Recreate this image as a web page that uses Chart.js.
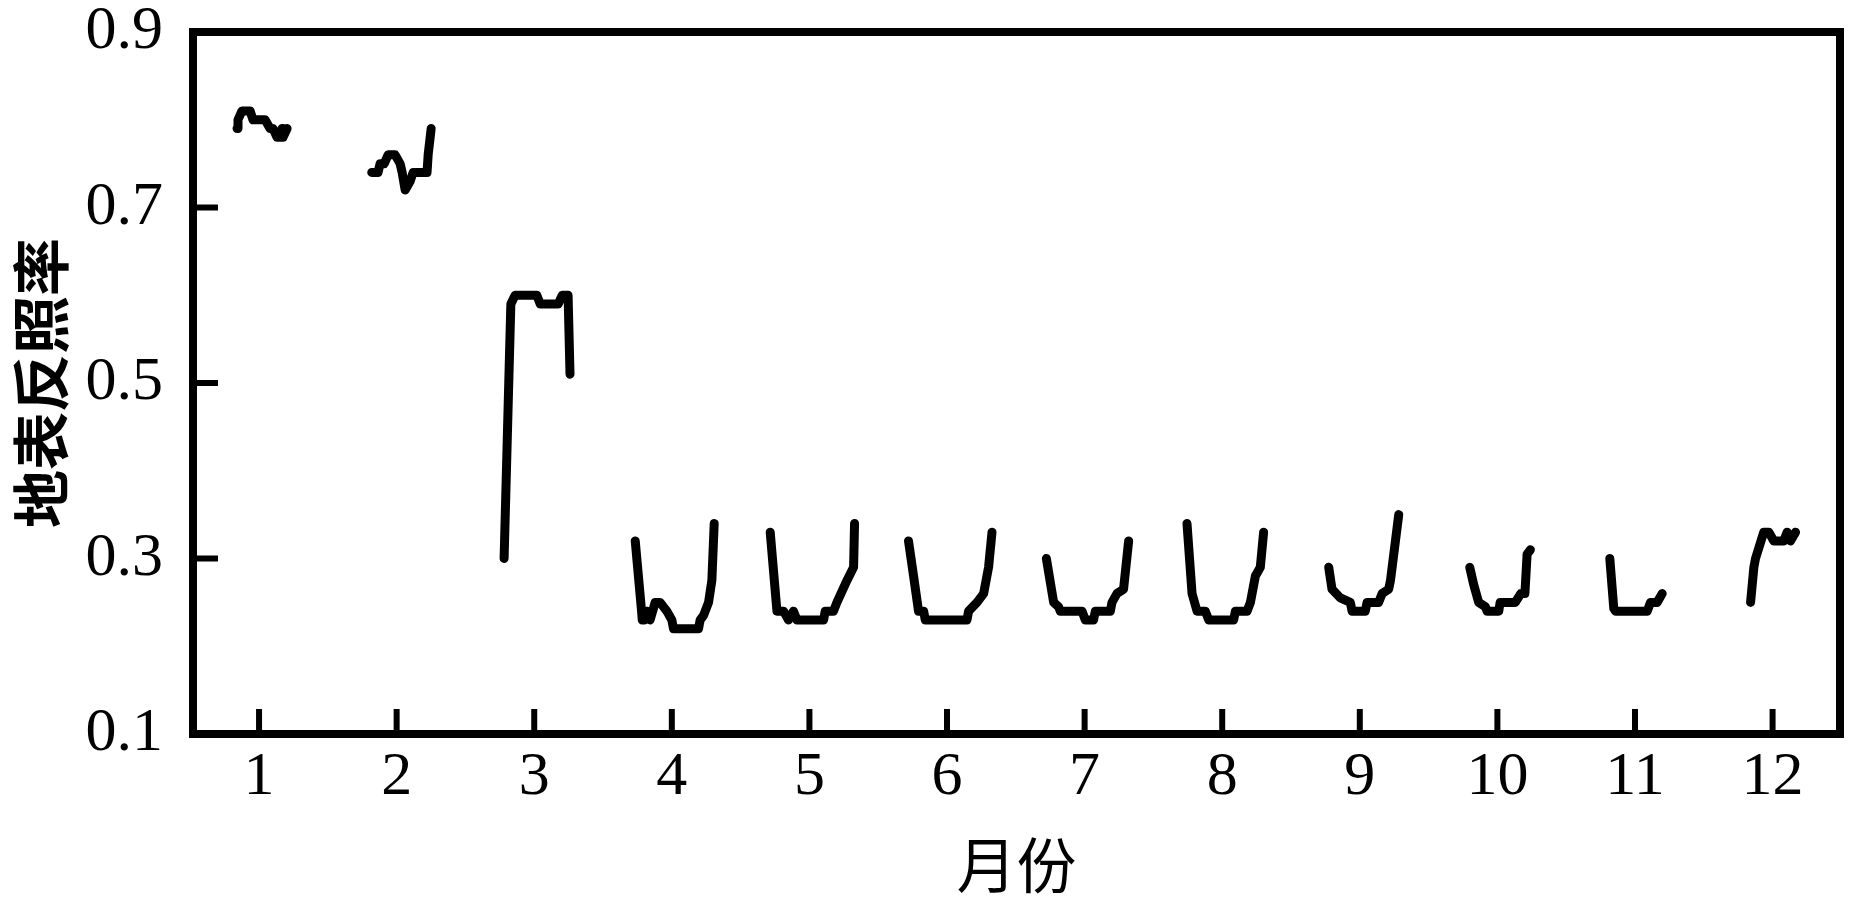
<!DOCTYPE html>
<html>
<head>
<meta charset="utf-8">
<script src="https://cdn.jsdelivr.net/npm/chart.js@4.4.1/dist/chart.umd.min.js"></script>
<style>
    body { margin: 0; background: #fff; }
    canvas { display: block; }
</style>
</head>
<body>
<canvas id="albedoChart" width="1858" height="903"></canvas>
<script>
// month ticks and y ticks
const months = [1, 2, 3, 4, 5, 6, 7, 8, 9, 10, 11, 12];
const yTicks = [0.1, 0.3, 0.5, 0.7, 0.9];

// albedo readings per month: [month position, albedo]
const jan = [[0.84, 0.79], [0.847, 0.80], [0.876, 0.81], [0.935, 0.81], [0.956, 0.80], [1.044, 0.80], [1.08, 0.79], [1.102, 0.79], [1.131, 0.78], [1.153, 0.78], [1.167, 0.79], [1.174, 0.78], [1.204, 0.79]];
const feb = [[1.819, 0.74], [1.865, 0.74], [1.88, 0.75], [1.91, 0.75], [1.938, 0.76], [1.989, 0.76], [2.025, 0.75], [2.04, 0.74], [2.062, 0.72], [2.098, 0.73], [2.12, 0.74], [2.221, 0.74], [2.229, 0.76], [2.251, 0.79]];
const mar = [[2.781, 0.30], [2.83, 0.59], [2.861, 0.60], [3.019, 0.60], [3.043, 0.59], [3.174, 0.59], [3.203, 0.60], [3.246, 0.60], [3.26, 0.51]];
const apr = [[3.734, 0.32], [3.78, 0.24], [3.785, 0.23], [3.80, 0.23], [3.818, 0.24], [3.842, 0.23], [3.879, 0.25], [3.915, 0.25], [3.964, 0.24], [4.0, 0.23], [4.012, 0.22], [4.194, 0.22], [4.206, 0.23], [4.23, 0.235], [4.267, 0.25], [4.291, 0.275], [4.308, 0.34]];
const may = [[4.715, 0.33], [4.764, 0.24], [4.812, 0.24], [4.848, 0.23], [4.884, 0.24], [4.909, 0.23], [5.103, 0.23], [5.115, 0.24], [5.175, 0.24], [5.2, 0.25], [5.273, 0.275], [5.321, 0.29], [5.328, 0.34]];
const jun = [[5.72, 0.32], [5.757, 0.28], [5.793, 0.24], [5.83, 0.24], [5.842, 0.23], [6.145, 0.23], [6.157, 0.24], [6.218, 0.25], [6.266, 0.26], [6.302, 0.29], [6.327, 0.33]];
const jul = [[6.722, 0.30], [6.775, 0.25], [6.811, 0.245], [6.823, 0.24], [6.981, 0.24], [7.005, 0.23], [7.065, 0.23], [7.078, 0.24], [7.187, 0.24], [7.199, 0.25], [7.235, 0.26], [7.283, 0.265], [7.32, 0.32]];
const aug = [[7.744, 0.34], [7.781, 0.26], [7.817, 0.24], [7.877, 0.24], [7.902, 0.23], [8.083, 0.23], [8.096, 0.24], [8.181, 0.24], [8.205, 0.25], [8.241, 0.28], [8.277, 0.29], [8.301, 0.33]];
const sep = [[8.774, 0.29], [8.798, 0.265], [8.859, 0.255], [8.931, 0.25], [8.944, 0.24], [9.04, 0.24], [9.053, 0.25], [9.137, 0.25], [9.162, 0.26], [9.21, 0.265], [9.223, 0.275], [9.283, 0.35]];
const oct = [[9.799, 0.29], [9.828, 0.27], [9.864, 0.25], [9.913, 0.245], [9.925, 0.24], [10.01, 0.24], [10.02, 0.25], [10.13, 0.25], [10.17, 0.26], [10.2, 0.26], [10.216, 0.305], [10.24, 0.31]];
const nov = [[10.817, 0.30], [10.846, 0.243], [10.859, 0.24], [11.089, 0.24], [11.113, 0.25], [11.161, 0.25], [11.198, 0.26]];
const dec = [[11.84, 0.25], [11.864, 0.29], [11.876, 0.30], [11.912, 0.318], [11.936, 0.33], [11.973, 0.33], [12.009, 0.32], [12.081, 0.32], [12.106, 0.33], [12.13, 0.32], [12.167, 0.33]];

const segments = [jan, feb, mar, apr, may, jun, jul, aug, sep, oct, nov, dec];

const serif = "'Liberation Serif', 'Times New Roman', serif";
const cjk = "'Noto Sans CJK SC', sans-serif";

// frame + inward ticks
const framePlugin = {
    id: 'frame',
    afterDraw: (chart) => {
        const { ctx, chartArea: { left, right, top, bottom } } = chart;
        const xs = chart.scales.x, ys = chart.scales.y;
        ctx.save();
        ctx.strokeStyle = '#000';
        ctx.lineWidth = 6;
        ctx.lineCap = 'butt';
        months.forEach(m => {
            const px = xs.getPixelForValue(m);
            ctx.beginPath();
            ctx.moveTo(px, bottom);
            ctx.lineTo(px, bottom - 25);
            ctx.stroke();
        });
        yTicks.forEach(v => {
            const py = ys.getPixelForValue(v);
            ctx.beginPath();
            ctx.moveTo(left, py);
            ctx.lineTo(left + 25, py);
            ctx.stroke();
        });
        ctx.lineWidth = 8;
        ctx.lineJoin = 'miter';
        ctx.strokeRect(left, top, right - left, bottom - top);
        ctx.restore();
    }
};

const ctx = document.getElementById('albedoChart').getContext('2d');

new Chart(ctx, {
    type: 'line',
    data: {
        datasets: segments.map((seg, i) => ({
            label: String(months[i]),
            data: seg,
            borderColor: '#000',
            borderWidth: 9,
            borderCapStyle: 'round',
            borderJoinStyle: 'round',
            pointRadius: 0,
            tension: 0,
            fill: false
        }))
    },
    options: {
        responsive: false,
        devicePixelRatio: 1,
        animation: false,
        layout: { padding: { top: 32, right: 18, left: 0, bottom: 0 } },
        plugins: {
            legend: { display: false },
            tooltip: { enabled: false }
        },
        scales: {
            x: {
                type: 'linear',
                min: 0.52,
                max: 12.49,
                afterBuildTicks: (scale) => {
                    scale.ticks = months.map(m => ({ value: m }));
                },
                afterFit: (scale) => {
                    scale.height = 169;
                    scale.paddingLeft = 0;
                    scale.paddingRight = 0;
                },
                grid: { display: false, drawTicks: false },
                border: { display: false },
                ticks: {
                    color: '#000',
                    padding: 13,
                    maxRotation: 0,
                    autoSkip: false,
                    font: { family: serif, size: 62, lineHeight: 1.0 },
                    callback: (v) => String(v)
                },
                title: {
                    display: true,
                    text: '月份',
                    color: '#000',
                    font: { family: cjk, size: 60, lineHeight: 1.0 },
                    padding: { top: 0, bottom: 8 }
                }
            },
            y: {
                min: 0.1,
                max: 0.9,
                afterBuildTicks: (scale) => {
                    scale.ticks = yTicks.map(v => ({ value: v }));
                },
                afterFit: (scale) => {
                    scale.width = 193;
                    scale.paddingTop = 0;
                    scale.paddingBottom = 0;
                },
                grid: { display: false, drawTicks: false },
                border: { display: false },
                ticks: {
                    color: '#000',
                    padding: 30,
                    font: { family: serif, size: 62, lineHeight: 1.0 },
                    callback: (v) => v.toFixed(1)
                },
                title: {
                    display: true,
                    text: '地表反照率',
                    color: '#000',
                    font: { family: cjk, size: 58, weight: 'bold', lineHeight: 1.0 },
                    padding: { top: 12, bottom: 0 }
                }
            }
        }
    },
    plugins: [framePlugin]
});
</script>
</body>
</html>
